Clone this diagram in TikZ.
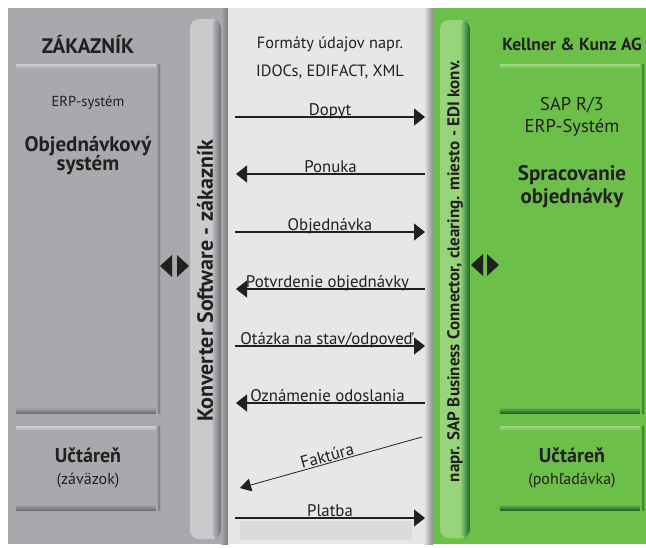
\documentclass[tikz,border=0pt]{standalone}
\usepackage{fontspec}
\setmainfont{PT Sans}
\usetikzlibrary{arrows.meta}
\definecolor{panelgray}{HTML}{A7A9AC}
\definecolor{darkgray}{HTML}{6D6E71}
\definecolor{lightgray}{HTML}{C9CACC}
\definecolor{midbg}{HTML}{E6E7E8}
\definecolor{midshade}{HTML}{DADBDD}
\definecolor{grn}{HTML}{6CC04A}
\definecolor{darkgrn}{HTML}{15662A}
\definecolor{lightgrn}{HTML}{98D57A}
\definecolor{ink}{HTML}{231F20}
\begin{document}
\begin{tikzpicture}[x=1pt,y=-1pt,
  txt/.style={text=ink, inner sep=0pt, align=center},
  msg/.style={draw=ink, line width=1.2pt, -{Triangle[length=11pt,width=17pt]}},
  lbl/.style={txt, font=\fontsize{16.8}{18}\selectfont, anchor=base, yshift=1.5pt},
  boxg/.style={fill=panelgray, minimum width=144pt, inner sep=0pt},
  boxgr/.style={fill=grn, minimum width=144pt, inner sep=0pt},
  tri/.style={fill=ink}
]
\useasboundingbox (0,0) rectangle (646,547);
\fill[white] (0,0) rectangle (646,547);
% panels
\fill[panelgray] (8,8) rectangle (228,544);
\shade[left color=panelgray, right color=darkgray!90] (221,8) rectangle (228,544);
\fill[midbg] (228,8) rectangle (433,544);
\shade[left color=midbg, right color=darkgray!80] (424,8) rectangle (433,544);
\fill[grn] (433,8) rectangle (646,544);
\fill[midshade] (240,521) rectangle (412,540);
% converter bars
\node[fill=lightgray, rounded corners=9pt, minimum width=31pt, minimum height=520pt, inner sep=0pt] (kbar) at (205.5,279) {};
\shade[left color=lightgray, right color=darkgray, rounded corners=9pt] (211,19) rectangle (221,539);
\fill[lightgray] (200,25) rectangle (212,533);
\node[fill=lightgrn, rounded corners=9pt, minimum width=30pt, minimum height=518pt, inner sep=0pt] (gbar) at (455,279) {};
\shade[left color=lightgrn, right color=darkgrn, rounded corners=9pt] (460,20) rectangle (470,538);
\fill[lightgrn] (450,26) rectangle (461,532);
\node[txt, rotate=90, font=\bfseries\fontsize{22}{24}\selectfont] (ktext) at (205,281) {Konverter Software - zákazník};
\node[txt, rotate=90, font=\bfseries\fontsize{17}{19}\selectfont] (gtext) at (455,271) {napr. SAP Business Connector, clearing. miesto - EDI konv.};
% left boxes
\node[boxg, minimum height=348pt] (lbox) at (88,239) {};
\shade[top color=panelgray, bottom color=darkgray] ([yshift=6pt]lbox.south west) rectangle (lbox.south east);
\shade[left color=panelgray, right color=darkgray] ([xshift=-4pt]lbox.north east) rectangle (lbox.south east);
\shade[top color=lightgray, bottom color=panelgray] (lbox.north west) rectangle ([yshift=-4pt,xshift=-4pt]lbox.north east);
\node[boxg, minimum height=83pt] (lsbox) at (88,468.5) {};
\shade[top color=panelgray, bottom color=darkgray] ([yshift=6pt]lsbox.south west) rectangle (lsbox.south east);
\shade[left color=panelgray, right color=darkgray] ([xshift=-4pt]lsbox.north east) rectangle (lsbox.south east);
\shade[top color=lightgray, bottom color=panelgray] (lsbox.north west) rectangle ([yshift=-4pt,xshift=-4pt]lsbox.north east);
% right boxes
\node[boxgr, minimum height=348pt] (rbox) at (572,239) {};
\shade[top color=grn, bottom color=darkgrn] ([yshift=6pt]rbox.south west) rectangle (rbox.south east);
\shade[left color=grn, right color=darkgrn] ([xshift=-4pt]rbox.north east) rectangle (rbox.south east);
\shade[top color=lightgrn, bottom color=grn] (rbox.north west) rectangle ([yshift=-4pt,xshift=-4pt]rbox.north east);
\node[boxgr, minimum height=83pt] (rsbox) at (572,468.5) {};
\shade[top color=grn, bottom color=darkgrn] ([yshift=6pt]rsbox.south west) rectangle (rsbox.south east);
\shade[left color=grn, right color=darkgrn] ([xshift=-4pt]rsbox.north east) rectangle (rsbox.south east);
\shade[top color=lightgrn, bottom color=grn] (rsbox.north west) rectangle ([yshift=-4pt,xshift=-4pt]rsbox.north east);
% texts left
\node[txt, font=\bfseries\fontsize{21}{23}\selectfont, anchor=base] (zak) at (88,53) {ZÁKAZNÍK};
\node[txt, font=\fontsize{14.5}{16}\selectfont, anchor=base] (erp1) at (88,106) {ERP-systém};
\node[txt, font=\bfseries\fontsize{21}{20}\selectfont, anchor=base] (obj1) at (88,151) {Objednávkový};
\node[txt, font=\bfseries\fontsize{21}{20}\selectfont, anchor=base] (obj2) at (88,170) {systém};
\node[txt, font=\bfseries\fontsize{20}{20}\selectfont, anchor=base] (uc1) at (88,462) {Učtáreň};
\node[txt, font=\fontsize{16}{16}\selectfont, anchor=base] (zav) at (88,484) {(záväzok)};
% texts right
\node[txt, font=\bfseries\fontsize{17.5}{18}\selectfont, anchor=base] (kk) at (572,50) {Kellner \& Kunz AG};
\node[txt, font=\fontsize{18.5}{20}\selectfont, anchor=base] (sap1) at (572,110) {SAP R/3};
\node[txt, font=\fontsize{18.5}{20}\selectfont, anchor=base] (sap2) at (572,132) {ERP-Systém};
\node[txt, font=\bfseries\fontsize{21}{20}\selectfont, anchor=base] (spr1) at (572,180) {Spracovanie};
\node[txt, font=\bfseries\fontsize{21}{20}\selectfont, anchor=base] (spr2) at (572,203) {objednávky};
\node[txt, font=\bfseries\fontsize{20}{20}\selectfont, anchor=base] (uc2) at (572,462) {Učtáreň};
\node[txt, font=\fontsize{16}{16}\selectfont, anchor=base] (poh) at (572,484) {(pohľadávka)};
% middle header
\node[txt, font=\fontsize{16.3}{18}\selectfont, anchor=base] (fmt1) at (330,48) {Formáty údajov napr.};
\node[txt, font=\fontsize{16.3}{18}\selectfont, anchor=base] (fmt2) at (330,76) {IDOCs, EDIFACT, XML};
% message arrows
\coordinate (a1l) at (235,117); \coordinate (a1r) at (425,117);
\coordinate (a2l) at (236,174); \coordinate (a2r) at (425,174);
\coordinate (a3l) at (235,232); \coordinate (a3r) at (425,232);
\coordinate (a4l) at (236,289); \coordinate (a4r) at (425,289);
\coordinate (a5l) at (235,346); \coordinate (a5r) at (425,346);
\coordinate (a6l) at (236,403); \coordinate (a6r) at (425,403);
\coordinate (a7s) at (422,437); \coordinate (a7e) at (240,488);
\coordinate (a8l) at (235,518); \coordinate (a8r) at (425,518);
\draw[msg] (a1l) -- node[lbl] {Dopyt} (a1r);
\draw[msg] (a2r) -- node[lbl] {Ponuka} (a2l);
\draw[msg] (a3l) -- node[lbl] {Objednávka} (a3r);
\draw[msg] (a4r) -- node[lbl, xshift=-3pt] {Potvrdenie objednávky} (a4l);
\draw[msg] (a5l) -- node[lbl, xshift=-3pt] {Otázka na stav/odpoveď} (a5r);
\draw[msg] (a6r) -- node[lbl, xshift=-3pt] {Oznámenie odoslania} (a6l);
\draw[draw=ink, line width=0.8pt, -{Triangle[length=11pt,width=13pt]}] (a7s) -- node[txt, font=\fontsize{17}{18}\selectfont, sloped, anchor=base, yshift=1.5pt, xshift=-2pt] {Faktúra} (a7e);
\draw[msg] (a8l) -- node[lbl] {Platba} (a8r);
% double arrowheads
\fill[tri] (160,266) -- (172,255) -- (172,277) -- cycle;
\fill[tri] (189,266) -- (177,255) -- (177,277) -- cycle;
\fill[tri] (471,265) -- (483,254) -- (483,276) -- cycle;
\fill[tri] (499,265) -- (487,254) -- (487,276) -- cycle;
\end{tikzpicture}
\end{document}
